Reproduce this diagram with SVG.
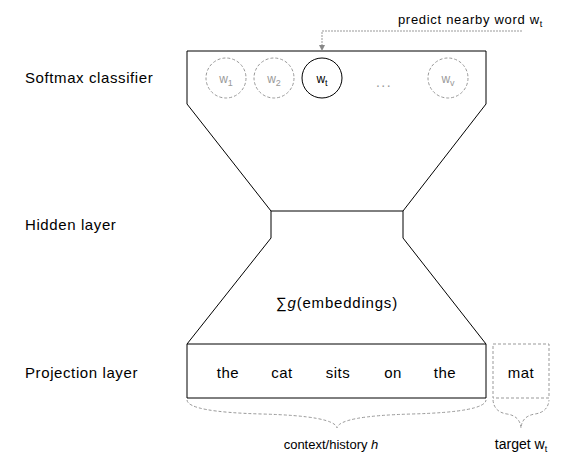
<svg xmlns="http://www.w3.org/2000/svg" width="566" height="464" viewBox="0 0 566 464">
<style>
text{font-family:"Liberation Sans",Arial,sans-serif;fill:#000}
.lbl{font-size:15px;letter-spacing:0.6px}
.w{font-size:15px;letter-spacing:0.5px;text-anchor:middle}
.sm{font-size:13px}
.line{fill:none;stroke:#000;stroke-width:1}
.dc{fill:none;stroke:#999;stroke-width:1;stroke-dasharray:3,2}
.gt{fill:#999;font-size:12px;text-anchor:middle}
</style>
<defs>
<marker id="ah" viewBox="0 0 6 6" refX="5" refY="3" markerWidth="6" markerHeight="6" orient="auto"><path d="M0,0 L6,3 L0,6 z" fill="#888"/></marker>
</defs>
<rect width="566" height="464" fill="#fff"/>
<g id="labels">
<text class="lbl" x="25" y="83">Softmax classifier</text>
<text class="lbl" x="25" y="230">Hidden layer</text>
<text class="lbl" x="25" y="378">Projection layer</text>
</g>
<g id="network">
<path class="line" d="M187,51 L486,51 L486,104 L403,211 L403,238 L486,344 L486,398 L187,398 L187,344 L271,238 L271,211 L187,104 Z"/>
<line class="line" x1="271" y1="211" x2="403" y2="211"/>
<line class="line" x1="187" y1="344" x2="486" y2="344"/>
</g>
<g id="softmax">
<circle class="dc" cx="226" cy="78" r="20"/>
<text class="gt" x="226" y="83">w<tspan font-size="9" dy="3">1</tspan></text>
<circle class="dc" cx="274" cy="78" r="20"/>
<text class="gt" x="274" y="83">w<tspan font-size="9" dy="3">2</tspan></text>
<circle cx="322" cy="78" r="20" fill="none" stroke="#000"/>
<text class="gt" x="322" y="83" style="fill:#000">w<tspan font-size="9" dy="3">t</tspan></text>
<text class="gt" x="384" y="87" style="font-size:14px;letter-spacing:1.5px">...</text>
<circle class="dc" cx="448" cy="78" r="20"/>
<text class="gt" x="448" y="83">w<tspan font-size="9" dy="3">v</tspan></text>
</g>
<g id="embed">
<text x="337" y="308" style="font-size:15px;letter-spacing:0.8px;text-anchor:middle">∑<tspan font-style="italic">g</tspan>(embeddings)</text>
</g>
<g id="projection">
<text class="w" x="228" y="378">the</text>
<text class="w" x="282" y="378">cat</text>
<text class="w" x="338" y="378">sits</text>
<text class="w" x="393" y="378">on</text>
<text class="w" x="445" y="378">the</text>
</g>
<g id="target">
<rect x="493" y="344" width="56" height="54" fill="none" stroke="#999" stroke-dasharray="3,2"/>
<text class="w" x="521" y="378">mat</text>
</g>
<g id="connectors">
<path d="M522,31 L322,31 L322,50" fill="none" stroke="#999" stroke-dasharray="2,1" marker-end="url(#ah)"/>
<path class="dc" d="M187,400 Q188,412 262,414 Q335,416 337,428 Q339,416 412,414 Q485,412 486,400"/>
<path class="dc" d="M493,400 Q494,412 507,414 Q520,416 521,428 Q522,416 535,414 Q548,412 549,400"/>
</g>
<g id="captions">
<text class="sm" x="543" y="24" text-anchor="end" style="letter-spacing:0.7px">predict nearby word w<tspan font-size="9" dy="3">t</tspan></text>
<text class="sm" x="331" y="449" text-anchor="middle">context/history <tspan font-style="italic">h</tspan></text>
<text class="sm" x="521" y="449" text-anchor="middle" style="font-size:14px">target w<tspan font-size="9" dy="3">t</tspan></text>
</g>
</svg>
